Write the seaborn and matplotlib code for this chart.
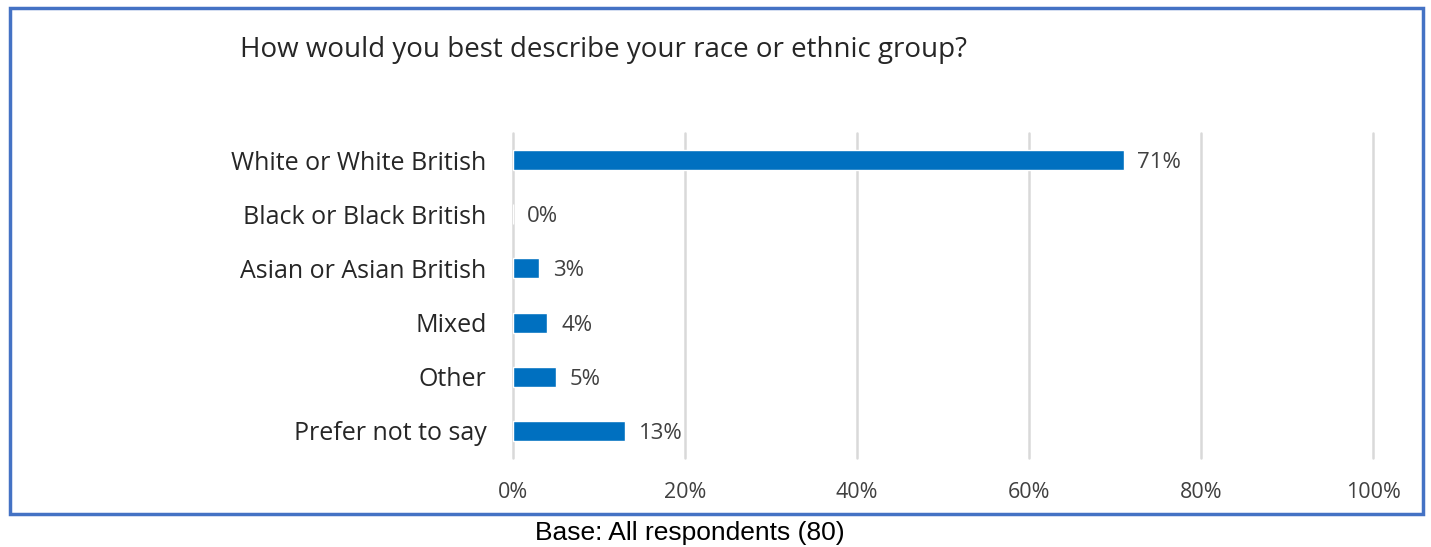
import matplotlib
matplotlib.use("Agg")
import matplotlib.pyplot as plt
import matplotlib.patches as mpatches
import seaborn as sns
import pandas as pd

categories = [
    "White or White British",
    "Black or Black British",
    "Asian or Asian British",
    "Mixed",
    "Other",
    "Prefer not to say",
]
percentages = [71, 0, 3, 4, 5, 13]
x_ticks = [0, 20, 40, 60, 80, 100]

title = "How would you best describe your race or ethnic group?"
base_note = "Base: All respondents (80)"

sns.set_theme(style="white")
plt.rcParams["font.family"] = ["Open Sans", "DejaVu Sans"]

df = pd.DataFrame({"category": categories, "pct": percentages})

W, H = 1431, 547
fig = plt.figure(figsize=(W / 100, H / 100), dpi=100)
ax = fig.add_axes([513 / W, 1 - 458 / H, (1373 - 513) / W, (458 - 133) / H])

sns.barplot(
    data=df, x="pct", y="category", orient="h", color="#0070C0",
    saturation=1, width=0.37, ax=ax,
)

ax.set_xlim(0, 100)
ax.set_ylim(len(categories) - 0.5, -0.5)
ax.set_xticks(x_ticks)
ax.set_xticklabels([f"{t}%" for t in x_ticks], fontsize=15.5, color="#404040")
ax.tick_params(axis="x", length=0, pad=17)
ax.tick_params(axis="y", length=0, pad=19, labelsize=18, labelcolor="#262626")
ax.set_xlabel("")
ax.set_ylabel("")
for s in ax.spines.values():
    s.set_visible(False)
ax.xaxis.grid(True, color="#d9d9d9", linewidth=1.8)
for gl in ax.get_xgridlines():
    gl.set_clip_on(False)
ax.set_axisbelow(True)

for i, v in enumerate(percentages):
    ax.annotate(f"{v}%", xy=(v, i), xytext=(10, 0), textcoords="offset points",
                va="center_baseline", ha="left", fontsize=16, color="#404040")

fig.text(240 / W, 1 - 50 / H, title, fontsize=20, color="#262626",
         ha="left", va="center")

fig.patches.append(mpatches.Rectangle(
    (10 / W, 1 - 514 / H), (1423 - 10) / W, (514 - 8) / H,
    transform=fig.transFigure, fill=False, edgecolor="#4472C4", linewidth=2.5))

fig.text(690 / W, 1 - 533 / H, base_note, fontsize=19, color="black",
         ha="center", va="center", family=["Liberation Sans", "DejaVu Sans"])

fig.savefig("out.png", dpi=100)
